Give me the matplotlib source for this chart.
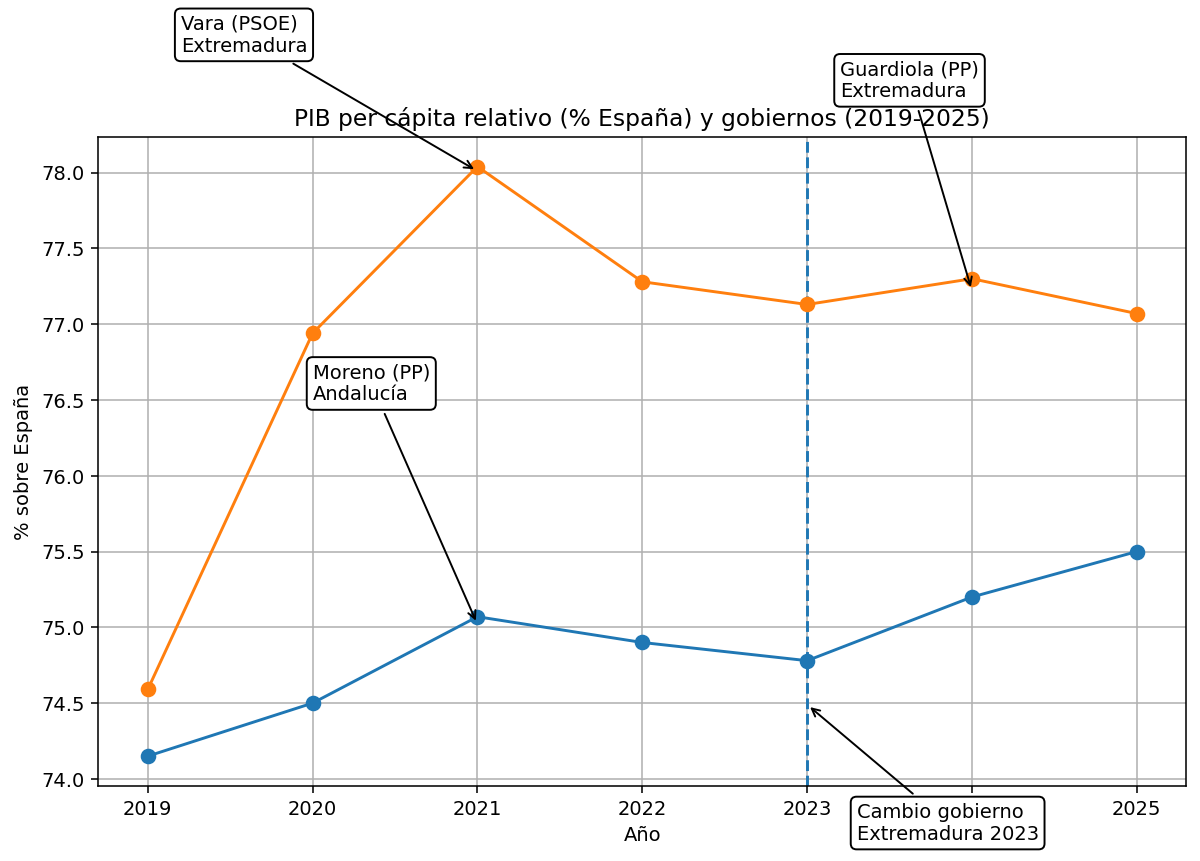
import matplotlib
matplotlib.use('Agg')
import matplotlib.pyplot as plt

# datos
anios = [2019, 2020, 2021, 2022, 2023, 2024, 2025]
andalucia = [74.15, 74.50, 75.07, 74.90, 74.78, 75.20, 75.50]
extremadura = [74.59, 76.94, 78.04, 77.28, 77.13, 77.30, 77.07]

titulo = 'PIB per cápita relativo (% España) y gobiernos (2019-2025)'

DPI = 140
fig = plt.figure(figsize=(1200.3 / DPI, 861.3 / DPI), dpi=DPI)
ax = fig.add_axes([0.0819, 0.0875, 0.9064, 0.753])

# cambio de gobierno
ax.axvline(2023, linestyle='--')

ax.plot(anios, andalucia, marker='o', markersize=7, label='Andalucía')
ax.plot(anios, extremadura, marker='o', markersize=7, label='Extremadura')

caja = dict(boxstyle='round', fc='white', ec='black')
flecha = dict(arrowstyle='->', color='black')

ax.annotate('Vara (PSOE)\nExtremadura', xy=(2021, 78.01), xytext=(2019.2, 78.8),
            bbox=caja, arrowprops=flecha)
ax.annotate('Guardiola (PP)\nExtremadura', xy=(2024, 77.22), xytext=(2023.2, 78.5),
            bbox=caja, arrowprops=flecha)
ax.annotate('Moreno (PP)\nAndalucía', xy=(2021, 75.02), xytext=(2020.0, 76.5),
            bbox=caja, arrowprops=flecha)
ax.annotate('Cambio gobierno\nExtremadura 2023', xy=(2023, 74.49), xytext=(2023.3, 73.6),
            bbox=caja, arrowprops=flecha)

ax.set_title(titulo)
ax.set_xlabel('Año')
ax.set_ylabel('% sobre España')
ax.grid(True)

plt.savefig('out.png', dpi=DPI)
